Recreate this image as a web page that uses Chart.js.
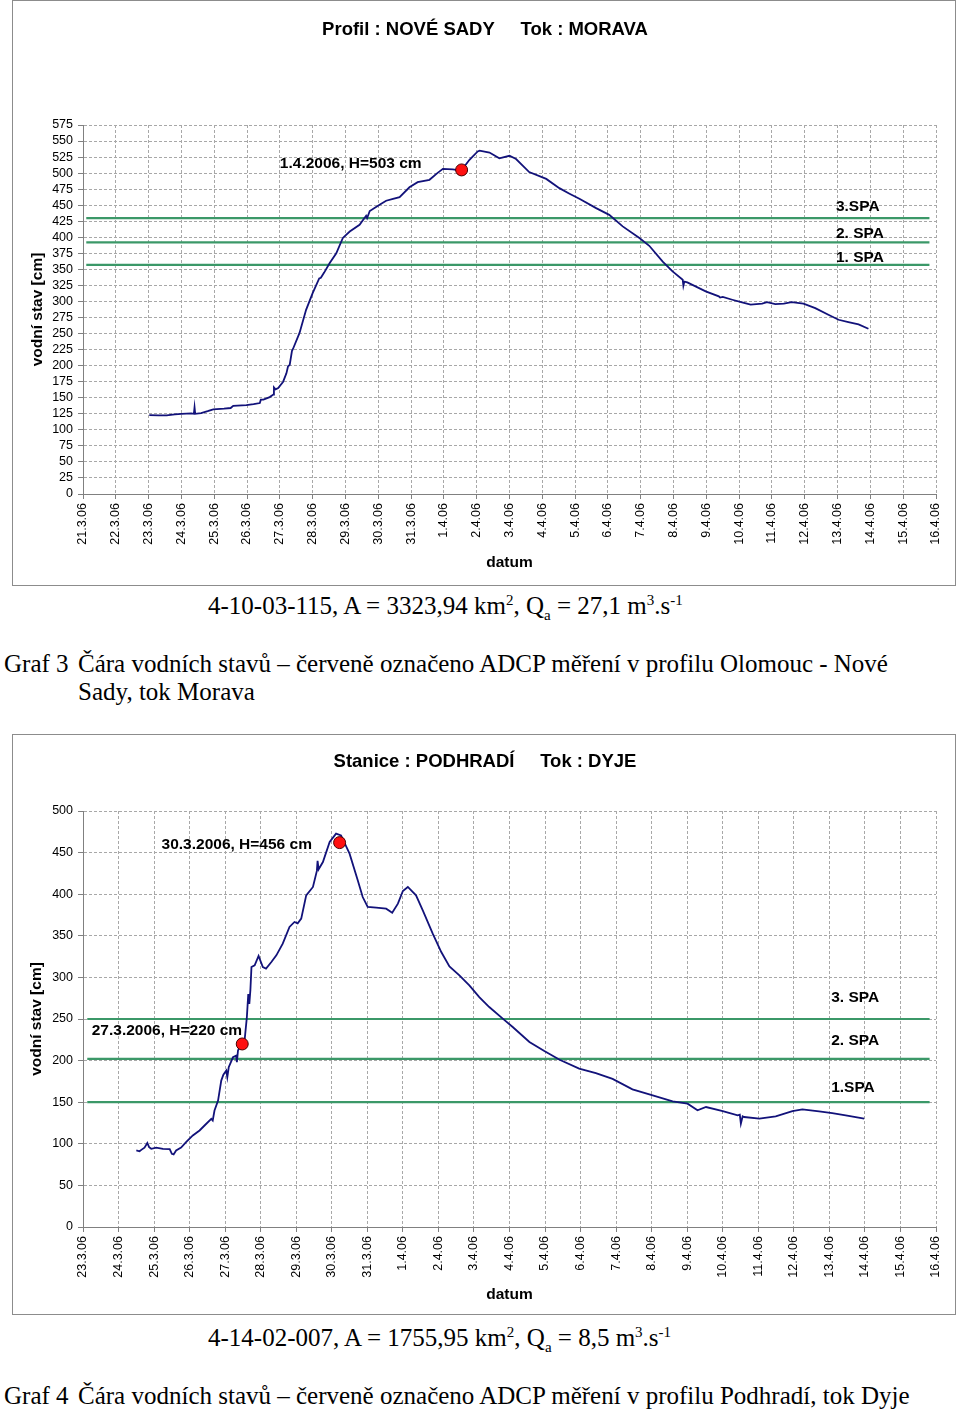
<!DOCTYPE html>
<html>
<head>
<meta charset="utf-8">
<title>Čára vodních stavů</title>
<script src="https://cdn.jsdelivr.net/npm/chart.js@4.4.0/dist/chart.umd.min.js"></script>
<style>
  body { margin: 0; background: #fff; width: 960px; height: 1410px; position: relative; overflow: hidden; }
  .frame { position: absolute; left: 12px; border: 1px solid #8c8c8c; background: #fff; }
  .frame canvas { display: block; }
  .caption { position: absolute; font-family: "Liberation Serif", "Times New Roman", serif; font-size: 25px; line-height: 28px; color: #000; white-space: nowrap; }
  .caption sup, .caption sub { font-size: 60%; line-height: 0; }
  .graf .num { position: absolute; left: 0; top: 0; }
  .graf .txt { display: block; margin-left: 74px; }
</style>
</head>
<body>

<div class="frame" style="top:0px"><canvas id="moravaChart" width="942" height="584"></canvas></div>
<div class="caption" style="left:208px; top:592px">4-10-03-115, A = 3323,94 km<sup>2</sup>, Q<sub>a</sub> = 27,1 m<sup>3</sup>.s<sup>-1</sup></div>
<div class="caption graf" style="left:4px; top:650px"><span class="num">Graf 3</span><span class="txt">Čára vodních stavů – červeně označeno ADCP měření v profilu Olomouc - Nové<br>Sady, tok Morava</span></div>

<div class="frame" style="top:734px"><canvas id="dyjeChart" width="942" height="579"></canvas></div>
<div class="caption" style="left:208px; top:1324px">4-14-02-007, A = 1755,95 km<sup>2</sup>, Q<sub>a</sub> = 8,5 m<sup>3</sup>.s<sup>-1</sup></div>
<div class="caption graf" style="left:4px; top:1382px"><span class="num">Graf 4</span><span class="txt">Čára vodních stavů – červeně označeno ADCP měření v profilu Podhradí, tok Dyje</span></div>

<script>
// --- Profil Nove Sady, Morava (x = days since 21.3.2006) ---
const moravaTicks = ['21.3.06', '22.3.06', '23.3.06', '24.3.06', '25.3.06', '26.3.06', '27.3.06', '28.3.06', '29.3.06', '30.3.06', '31.3.06',
    '1.4.06', '2.4.06', '3.4.06', '4.4.06', '5.4.06', '6.4.06', '7.4.06', '8.4.06', '9.4.06', '10.4.06', '11.4.06', '12.4.06', '13.4.06', '14.4.06', '15.4.06', '16.4.06'];
const moravaDay = [2.02, 2.3, 2.55, 2.8, 3.0, 3.3, 3.38, 3.4, 3.42, 3.6,
    3.8, 3.97, 4.3, 4.5, 4.58, 4.98, 5.2, 5.39, 5.42, 5.5,
    5.69, 5.8, 5.82, 5.87, 5.95, 6.1, 6.2, 6.25, 6.3, 6.37,
    6.4, 6.6, 6.8, 7.0, 7.2, 7.25, 7.35, 7.52, 7.72, 7.92,
    8.13, 8.43, 8.63, 8.66, 8.74, 9.04, 9.24, 9.45, 9.65, 9.95,
    10.2, 10.56, 10.8, 10.97, 11.27, 11.53, 11.78, 12.03, 12.09, 12.39,
    12.69, 13.0, 13.2, 13.6, 14.12, 14.52, 14.83, 15.13, 15.64, 16.04,
    16.45, 16.96, 17.26, 17.67, 17.97, 18.28, 18.3, 18.33, 18.42, 18.67,
    18.98, 19.38, 19.42, 19.5, 19.79, 20.09, 20.35, 20.7, 20.85, 21.1,
    21.36, 21.6, 21.96, 22.32, 22.72, 23.03, 23.33, 23.64, 23.94];
const moravaLevel = [123, 122.5, 122.5, 124, 125, 125.5, 125, 135, 125, 126,
    129, 132, 133, 134, 137.5, 138.6, 140, 141.7, 147, 147,
    151, 155, 166, 163, 165, 175, 188, 199, 201, 223,
    226, 251, 287, 313, 336, 337, 345, 360, 375, 399,
    409, 419.5, 433.5, 430, 441, 450.7, 457, 460, 462.6, 478,
    486, 489.6, 500, 506.7, 506, 504, 520.8, 533.8, 535, 532,
    523, 527, 522, 501.6, 491, 476.6, 468, 460, 445.5, 435,
    417, 399, 386.8, 362, 346.8, 333.9, 324.5, 331, 329.7, 323.5,
    315.7, 308, 306, 307, 302.7, 298.5, 295, 296.5, 299, 296,
    296.5, 299, 296.5, 289.7, 279.3, 271.5, 268, 264.3, 257.5];
const moravaSpa = [357, 392, 430];            // 1., 2., 3. SPA
const moravaAdcpDay = [11.54];
const moravaAdcpLevel = [505];

// --- Stanice Podhradi, Dyje (x = days since 23.3.2006) ---
const dyjeTicks = ['23.3.06', '24.3.06', '25.3.06', '26.3.06', '27.3.06', '28.3.06', '29.3.06', '30.3.06', '31.3.06',
    '1.4.06', '2.4.06', '3.4.06', '4.4.06', '5.4.06', '6.4.06', '7.4.06', '8.4.06', '9.4.06', '10.4.06', '11.4.06', '12.4.06', '13.4.06', '14.4.06', '15.4.06', '16.4.06'];
const dyjeDay = [1.5, 1.59, 1.65, 1.73, 1.81, 1.86, 1.92, 2.06, 2.25, 2.44,
    2.5, 2.55, 2.62, 2.76, 2.9, 3.09, 3.28, 3.42, 3.61, 3.65,
    3.7, 3.8, 3.89, 3.95, 4.03, 4.06, 4.1, 4.22, 4.31, 4.33,
    4.36, 4.4, 4.5, 4.55, 4.61, 4.65, 4.68, 4.71, 4.74, 4.83,
    4.94, 5.06, 5.15, 5.3, 5.44, 5.62, 5.81, 5.95, 6.04, 6.14,
    6.28, 6.47, 6.58, 6.6, 6.63, 6.75, 6.94, 7.12, 7.26, 7.5,
    7.73, 7.87, 8.01, 8.25, 8.53, 8.7, 8.86, 9.0, 9.14, 9.37,
    9.56, 9.84, 10.08, 10.31, 10.59, 10.87, 11.15, 11.43, 11.81, 12.09,
    12.56, 12.98, 13.41, 13.96, 14.43, 14.9, 15.46, 16.03, 16.59, 17.01,
    17.29, 17.53, 18.0, 18.42, 18.48, 18.51, 18.56, 18.6, 19.03, 19.49,
    19.96, 20.24, 20.71, 21.08, 21.46, 21.98];
const dyjeLevel = [92, 91, 93, 95.4, 101, 96, 94, 95.4, 94, 93.7,
    88, 87.3, 92, 95.4, 102, 110, 116, 122, 130, 128,
    140, 152, 176, 183, 188, 180, 192, 204, 206, 198,
    212, 216, 222, 226, 252, 280, 268, 285, 312.5, 314.5,
    325.7, 312.5, 310.5, 318.5, 326.5, 340.5, 360.6, 366.6, 365, 370.6,
    398.6, 408.7, 428, 440, 430, 438.7, 462.7, 472.8, 470.7, 448.7,
    416.7, 396.6, 384.6, 383.8, 382.6, 377.8, 388.6, 403.8, 408.7, 398.6,
    380.6, 352.6, 330.5, 313.3, 302.5, 290.5, 276.4, 264.4, 250.4, 240.4,
    222.4, 211.5, 201, 190.3, 185, 178, 165.5, 158.3, 151, 148.2,
    140.2, 144.2, 139.4, 134.2, 135, 124.2, 133, 132.2, 130.2, 133,
    139.4, 141.4, 139, 137, 134.2, 130.2];
const dyjeSpa = [150, 202, 250];
const dyjeAdcpDay = [4.48, 7.22];
const dyjeAdcpLevel = [220, 462];

const SANS = '"Liberation Sans", Arial, sans-serif';
Chart.defaults.font.family = SANS;
Chart.defaults.color = '#000';

// draws free text labels anchored in data units
const textLabels = {
    id: 'textLabels',
    afterDatasetsDraw(chart, args, opts) {
        const { ctx, scales } = chart;
        ctx.save();
        ctx.font = 'bold 15.5px ' + SANS;
        ctx.fillStyle = '#000';
        ctx.textBaseline = 'middle';
        ctx.textAlign = 'left';
        opts.items.forEach(item => {
            ctx.fillText(item.text, scales.x.getPixelForValue(item.x), scales.y.getPixelForValue(item.y));
        });
        ctx.restore();
    }
};

function createChart(elementId, s) {
    const ctx = document.getElementById(elementId).getContext('2d');
    const levelData = s.day.map((d, i) => ({ x: d, y: s.level[i] }));
    const adcpData = s.adcpDay.map((d, i) => ({ x: d, y: s.adcpLevel[i] }));
    const spaSets = s.spa.map(v => ({
        data: [{ x: s.spaFrom, y: v }, { x: s.spaTo, y: v }],
        borderColor: '#3b9868',
        borderWidth: 2.2,
        pointRadius: 0,
        order: 3
    }));

    return new Chart(ctx, {
        type: 'line',
        data: {
            datasets: [{
                data: adcpData,
                showLine: false,
                pointRadius: s.dotRadius,
                pointBackgroundColor: '#ff1010',
                pointBorderColor: '#4a0000',
                pointBorderWidth: 1,
                order: 1
            }, {
                data: levelData,
                borderColor: '#12127a',
                borderWidth: 1.8,
                pointRadius: 0,
                tension: 0,
                order: 2
            }, ...spaSets]
        },
        options: {
            responsive: false,
            animation: false,
            devicePixelRatio: 1,
            // left padding keeps the title centred like the original
            layout: { padding: { left: 20, right: 18, top: 0, bottom: 0 } },
            plugins: {
                legend: { display: false },
                tooltip: { enabled: false },
                title: {
                    display: true,
                    text: s.title,
                    font: { size: 18.5, weight: 'bold' },
                    color: '#000',
                    padding: s.titlePadding
                },
                textLabels: { items: s.labels }
            },
            scales: {
                x: {
                    type: 'linear',
                    min: 0,
                    max: s.ticks.length - 1,
                    afterFit: scale => { scale.height = s.xHeight; },
                    grid: { color: '#a8a8a8', tickLength: 5, tickColor: '#808080' },
                    border: { display: true, color: '#808080', dash: [3, 2] },
                    ticks: {
                        stepSize: 1,
                        autoSkip: false,
                        minRotation: 90,
                        maxRotation: 90,
                        padding: 4,
                        font: { size: 12.5 },
                        callback: v => s.ticks[v]
                    },
                    title: {
                        display: true,
                        text: 'datum',
                        font: { size: 15.5, weight: 'bold' },
                        padding: { top: 0, bottom: s.datumPad }
                    }
                },
                y: {
                    min: 0,
                    max: s.yMax,
                    afterFit: scale => { scale.width = 50; },
                    grid: { color: '#a8a8a8', tickLength: 5, tickColor: '#808080' },
                    border: { display: true, color: '#808080', dash: [3, 2] },
                    ticks: { stepSize: s.yStep, autoSkip: false, padding: 5, font: { size: 12.5 } },
                    title: {
                        display: true,
                        text: 'vodní stav [cm]',
                        font: { size: 15.5, weight: 'bold' },
                        padding: { top: s.yTitlePad, bottom: 0 }
                    }
                }
            }
        },
        plugins: [textLabels]
    });
}

createChart('moravaChart', {
    title: 'Profil : NOVÉ SADY\u00a0\u00a0\u00a0\u00a0\u00a0Tok : MORAVA',
    titlePadding: { top: 17.9, bottom: 83.9 },
    ticks: moravaTicks, day: moravaDay, level: moravaLevel,
    adcpDay: moravaAdcpDay, adcpLevel: moravaAdcpLevel, dotRadius: 6,
    spa: moravaSpa, spaFrom: 0.1, spaTo: 25.8,
    yMax: 575, yStep: 25, xHeight: 91, datumPad: 13, yTitlePad: -4.8,
    labels: [
        { text: '1.4.2006, H=503 cm', x: 6.0, y: 514 },
        { text: '3.SPA', x: 22.95, y: 447 },
        { text: '2. SPA', x: 22.95, y: 405 },
        { text: '1. SPA', x: 22.95, y: 368 }
    ]
});

createChart('dyjeChart', {
    title: 'Stanice : PODHRADÍ\u00a0\u00a0\u00a0\u00a0\u00a0Tok : DYJE',
    titlePadding: { top: 15.9, bottom: 37.9 },
    ticks: dyjeTicks, day: dyjeDay, level: dyjeLevel,
    adcpDay: dyjeAdcpDay, adcpLevel: dyjeAdcpLevel, dotRadius: 6,
    spa: dyjeSpa, spaFrom: 0.12, spaTo: 23.82,
    yMax: 500, yStep: 50, xHeight: 87, datumPad: 10, yTitlePad: -5.6,
    labels: [
        { text: '30.3.2006, H=456 cm', x: 2.21, y: 459 },
        { text: '27.3.2006, H=220 cm', x: 0.245, y: 236 },
        { text: '3. SPA', x: 21.05, y: 275 },
        { text: '2. SPA', x: 21.05, y: 224 },
        { text: '1.SPA', x: 21.05, y: 168 }
    ]
});
</script>
</body>
</html>
